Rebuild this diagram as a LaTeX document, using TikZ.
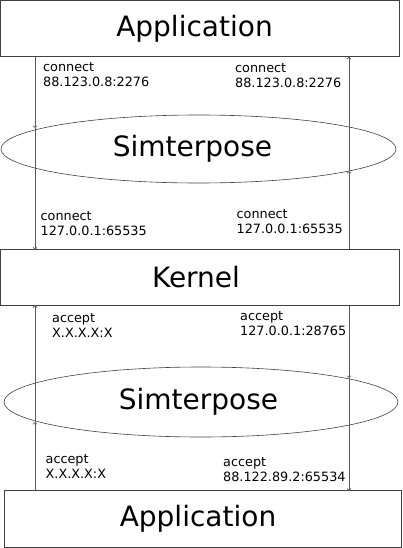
\documentclass[tikz,border=0pt]{standalone}
\usepackage{fontspec}
\setmainfont{DejaVu Sans}
\usetikzlibrary{shapes.geometric,arrows.meta}
\begin{document}
\begin{tikzpicture}[x=1pt,y=-1pt,
  big/.style={font=\fontsize{28}{33}\selectfont,inner sep=0pt},
  box/.style={draw=black!75,line width=0.7pt,rectangle,inner sep=0pt},
  ell/.style={draw=black!75,line width=0.6pt,ellipse,inner sep=0pt},
  lbl/.style={anchor=base west,inner sep=0pt,align=left,font=\fontsize{12.8}{15}\selectfont},
  flow/.style={draw=black!65,line width=0.7pt,-{To[length=2.5pt,width=4.5pt]}}]
\useasboundingbox (0,0) rectangle (402,548);
% nodes
\node[box,minimum width=399pt,minimum height=56pt,label={[big,xshift=-5.5pt]center:Application}] (app1) at (200,28.5) {};
\node[ell,minimum width=395pt,minimum height=68pt,label={[big,xshift=-6pt]center:Simterpose}] (sim1) at (198.5,149) {};
\node[box,minimum width=399pt,minimum height=56pt,label={[big,xshift=-4pt]center:Kernel}] (kern) at (200,277) {};
\node[ell,minimum width=394pt,minimum height=70pt,label={[big,xshift=-2.5pt]center:Simterpose}] (sim2) at (201,402) {};
\node[box,minimum width=397pt,minimum height=57pt,label={[big,xshift=-4.5pt]center:Application}] (app2) at (202.5,518.5) {};
% crossing points
\coordinate (s1l) at (35,128);
\coordinate (s1r) at (349,171);
\coordinate (s2l) at (35,422);
\coordinate (s2r) at (349,378);
\coordinate (L) at (35,0);
\coordinate (R) at (349,0);
% connectors
\draw[flow] (app1.south -| L) -- (s1l);
\draw[flow] (s1l) -- ([yshift=-1pt]kern.north -| L);
\draw[flow] (kern.north -| R) -- (s1r);
\draw[flow] (s1r) -- (app1.south -| R);
\draw[flow] (app2.north -| L) -- (s2l);
\draw[flow] (s2l) -- (kern.south -| L);
\draw[flow] (kern.south -| R) -- (s2r);
\draw[flow] (s2r) -- ([yshift=-1pt]app2.north -| R);
% labels
\node[lbl] (t1) at (43,87) {connect\\88.123.0.8:2276};
\node[lbl] (t2) at (235,88) {connect\\88.123.0.8:2276};
\node[lbl] (t3) at (40.5,235) {connect\\127.0.0.1:65535};
\node[lbl] (t4) at (236.5,233) {connect\\127.0.0.1:65535};
\node[lbl] (t5) at (52,337) {accept\\X.X.X.X:X};
\node[lbl] (t6) at (240,335) {accept\\127.0.0.1:28765};
\node[lbl] (t7) at (45.5,478) {accept\\X.X.X.X:X};
\node[lbl] (t8) at (223,481) {accept\\88.122.89.2:65534};
\end{tikzpicture}
\end{document}
